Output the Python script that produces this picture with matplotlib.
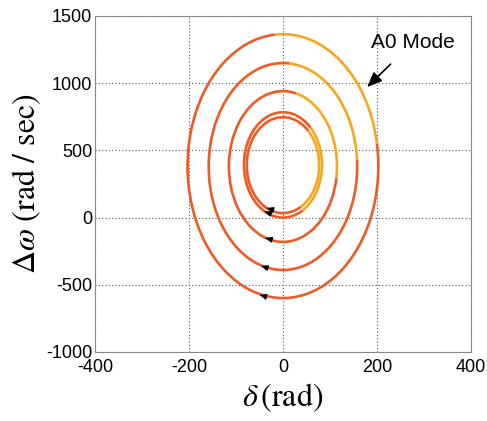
import matplotlib
matplotlib.use('Agg')
import matplotlib.pyplot as plt
from matplotlib.patches import Arc

# Orbit data (centre, half-width, half-height)
orbit_cx = [0, 0, 0, 0, 0]
orbit_cy = [383, 380, 380, 392, 390]
orbit_a = [203, 158, 115, 83, 77]
orbit_b = [982, 770, 561, 392, 357]
# yellow (A0 mode) part of each orbit, angles in degrees (data geometry)
yellow_from = [40, 17, -37, -83, -83]
yellow_to = [91, 89, 87, 78, 78]

# arrow heads showing the direction of motion
arrow_x = [-50, -47, -38, -40, -35]
arrow_y = [-575, -360, -150, 44, 72]

orange = '#F05A23'
yellow = '#F8A61E'

plt.rcParams['mathtext.fontset'] = 'stix'
plt.rcParams['axes.unicode_minus'] = False

fig = plt.figure(figsize=(4.87, 4.21), dpi=100)
ax = fig.add_axes([0.195, 0.164, 0.772, 0.798])

for cx, cy, a, b, y0, y1 in zip(orbit_cx, orbit_cy, orbit_a, orbit_b, yellow_from, yellow_to):
    ax.add_patch(Arc((cx, cy), 2 * a, 2 * b, theta1=y1, theta2=y0 + 360,
                     color=orange, lw=1.9, zorder=3))
    ax.add_patch(Arc((cx, cy), 2 * a, 2 * b, theta1=y0, theta2=y1,
                     color=yellow, lw=1.9, zorder=3))

for x, y in zip(arrow_x, arrow_y):
    ax.annotate('', xy=(x, y), xytext=(5, -1.5), textcoords='offset points',
                arrowprops=dict(arrowstyle='-|>,head_length=0.45,head_width=0.18',
                                color='black', lw=0.6, shrinkA=0, shrinkB=0),
                zorder=4)

ax.annotate('A0 Mode', xy=(179, 971), xytext=(277, 1305),
            ha='center', va='center', fontsize=15, family='Liberation Sans',
            arrowprops=dict(arrowstyle='-|>,head_length=0.6,head_width=0.25',
                            color='black', lw=1.2, shrinkA=10, shrinkB=0))

ax.set_xlim(-400, 400)
ax.set_ylim(-1000, 1500)
ax.set_xticks([-400, -200, 0, 200, 400])
ax.set_yticks([-1000, -500, 0, 500, 1000, 1500])
ax.grid(True, linestyle=(0, (1, 2)), color='#555555', lw=0.8)
ax.set_axisbelow(True)
for s in ax.spines.values():
    s.set_color('#888888')
ax.tick_params(length=0, pad=2, labelsize=13)
ax.tick_params(axis='x', pad=5)
for lab in ax.get_xticklabels() + ax.get_yticklabels():
    lab.set_family('Liberation Sans')

ax.set_xlabel(r'$\delta\,\mathrm{(rad)}$', fontsize=23, labelpad=4)
ax.set_ylabel(r'$\Delta\omega\ \mathrm{(rad\ /\ sec)}$', fontsize=23, labelpad=2)

fig.savefig('out.png', dpi=100, facecolor='white')
